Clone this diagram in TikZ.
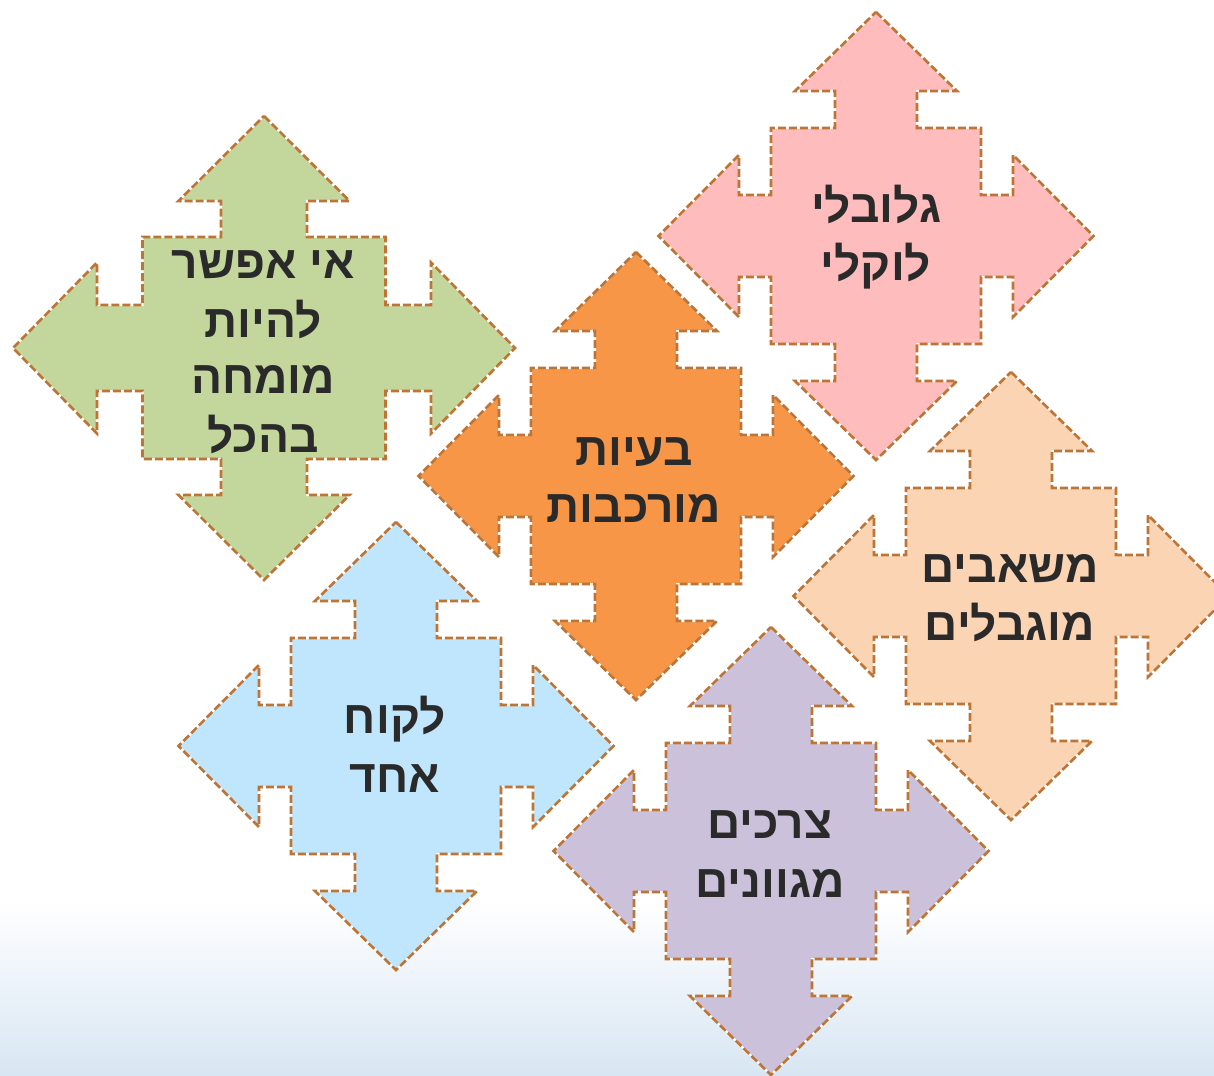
\documentclass[tikz,border=0pt]{standalone}
\usepackage{fontspec}
\newfontfamily\hebfont[Script=Hebrew]{Liberation Sans}
\TeXXeTstate=1
\definecolor{edgec}{HTML}{BD7435}
\definecolor{cgreen}{HTML}{C3D69B}
\definecolor{corange}{HTML}{F79646}
\definecolor{cpink}{HTML}{FFBCBC}
\definecolor{cpeach}{HTML}{FBD4B4}
\definecolor{cblue}{HTML}{BFE6FC}
\definecolor{cpurple}{HTML}{CCC1DA}
\definecolor{textgray}{HTML}{2A2A2A}
\definecolor{bgblue}{HTML}{D8E6F3}
\def\ss{41}
\def\hh{81}
% #1 cx, #2 cy, #3 tip x, #4 tip y, #5 head base x, #6 head base y, #7 square x, #8 square y, #9 fill
\newcommand\quadarrow[9]{%
 \path[arrowshape, fill=#9] (#1,{#2-#4}) -- ({#1+\hh},{#2-#6}) -- ({#1+\ss},{#2-#6}) -- ({#1+\ss},{#2-#8}) -- ({#1+#7},{#2-#8}) -- ({#1+#7},{#2-\ss}) -- ({#1+#5},{#2-\ss}) -- ({#1+#5},{#2-\hh}) -- ({#1+#3},#2) -- ({#1+#5},{#2+\hh}) -- ({#1+#5},{#2+\ss}) -- ({#1+#7},{#2+\ss}) -- ({#1+#7},{#2+#8}) -- ({#1+\ss},{#2+#8}) -- ({#1+\ss},{#2+#6}) -- ({#1+\hh},{#2+#6}) -- (#1,{#2+#4}) -- ({#1-\hh},{#2+#6}) -- ({#1-\ss},{#2+#6}) -- ({#1-\ss},{#2+#8}) -- ({#1-#7},{#2+#8}) -- ({#1-#7},{#2+\ss}) -- ({#1-#5},{#2+\ss}) -- ({#1-#5},{#2+\hh}) -- ({#1-#3},#2) -- ({#1-#5},{#2-\hh}) -- ({#1-#5},{#2-\ss}) -- ({#1-#7},{#2-\ss}) -- ({#1-#7},{#2-#8}) -- ({#1-\ss},{#2-#8}) -- ({#1-\ss},{#2-#6}) -- ({#1-\hh},{#2-#6}) -- cycle;}
\begin{document}
\begin{tikzpicture}[x=1pt,y=-1pt,
  arrowshape/.style={draw=white, line width=2pt, line join=miter,
    postaction={draw=edgec, line width=2.6pt, dash pattern=on 8pt off 3pt}},
  lbl/.style={font=\hebfont\bfseries\fontsize{46}{56}\selectfont, text=textgray, anchor=base, inner sep=0pt}]
\useasboundingbox (0,0) rectangle (1214,1075);
\clip (0,0) rectangle (1214,1075);
\fill[white] (0,0) rectangle (1214,1075);
\shade[top color=white, bottom color=bgblue] (0,900) rectangle (1214,1075);
% shapes
{\def\ss{43}\def\hh{85.5}
\quadarrow{264}{348}{251}{232}{167}{147}{121.5}{111}{cgreen}}
\quadarrow{876}{236}{217.5}{224}{137}{145}{105}{108}{cpink}
\quadarrow{636}{476}{217.5}{224}{137}{145}{105}{108}{corange}
\quadarrow{1011}{596}{217.5}{224}{137}{145}{105}{108}{cpeach}
\quadarrow{396}{746}{217.5}{224}{137}{145}{105}{108}{cblue}
\quadarrow{771}{851}{217.5}{224}{137}{145}{105}{108}{cpurple}
% labels
\node[lbl] (g1) at (263,278) {\beginR אי אפשר\endR};
\node[lbl] (g2) at (263,337) {\beginR להיות\endR};
\node[lbl] (g3) at (263,393) {\beginR מומחה\endR};
\node[lbl] (g4) at (263,452) {\beginR בהכל\endR};
\node[lbl] (p1) at (876,223) {\beginR גלובלי\endR};
\node[lbl] (p2) at (876,280) {\beginR לוקלי\endR};
\node[lbl] (o1) at (634,465) {\beginR בעיות\endR};
\node[lbl] (o2) at (634,522) {\beginR מורכבות\endR};
\node[lbl] (e1) at (1010,582) {\beginR משאבים\endR};
\node[lbl] (e2) at (1010,640) {\beginR מוגבלים\endR};
\node[lbl] (b1) at (395,733) {\beginR לקוח\endR};
\node[lbl] (b2) at (395,792) {\beginR אחד\endR};
\node[lbl] (u1) at (770,838) {\beginR צרכים\endR};
\node[lbl] (u2) at (770,897) {\beginR מגוונים\endR};
\end{tikzpicture}
\end{document}
